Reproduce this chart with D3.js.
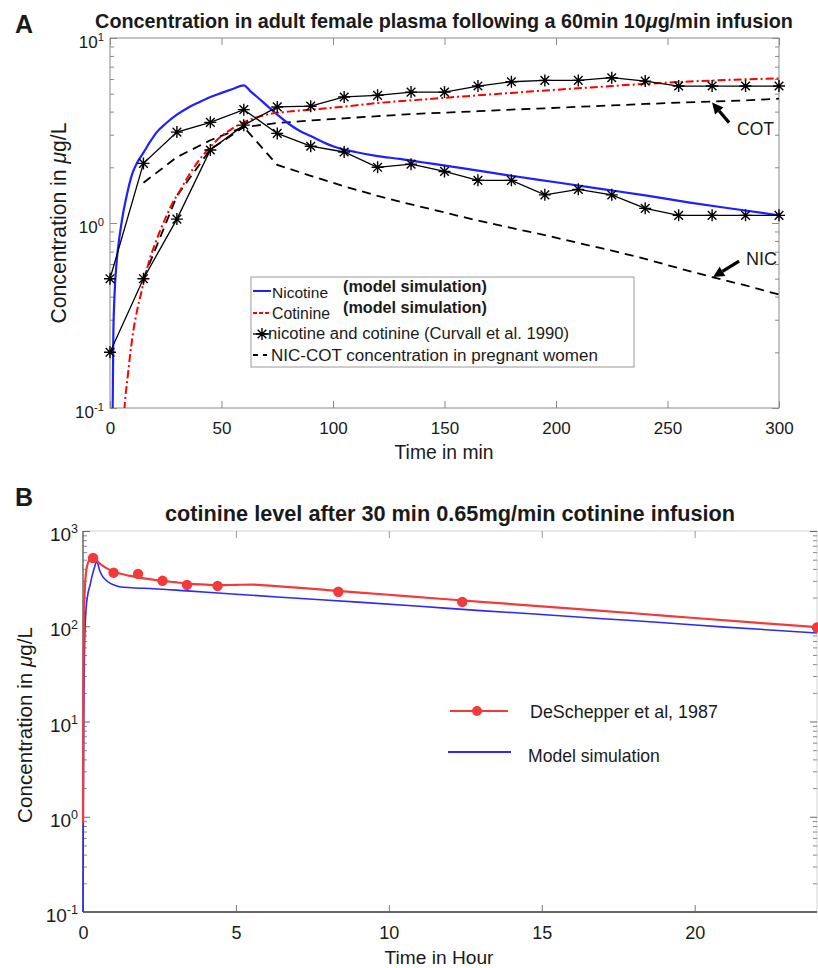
<!DOCTYPE html>
<html>
<head>
<meta charset="utf-8">
<script src="https://cdn.jsdelivr.net/npm/d3@7/dist/d3.min.js"></script>
<style>
body { margin: 0; background: #fff; }
text { font-family: "Liberation Sans", Arial, Helvetica, sans-serif; fill: #1a1a1a; }
</style>
</head>
<body>
<svg id="fig" width="818" height="968"></svg>
<script>
// ---------- panel A data (time in min, conc in ug/L) ----------
const nicModelT = [1, 1.2, 1.5, 2, 3, 4, 5, 6, 7, 8, 10, 12, 15, 18, 21, 25, 30, 35, 40, 45, 50, 55, 60,
  63, 66, 70, 75, 80, 85, 90, 100, 110, 120, 130, 140, 160, 180, 200, 220, 240, 260, 280, 300];
const nicModelC = [0.06, 0.1, 0.25, 0.4, 0.62, 0.8, 0.97, 1.15, 1.32, 1.5, 1.85, 2.1, 2.4, 2.75, 3.1, 3.45, 3.85, 4.2, 4.5, 4.8, 5.05, 5.3, 5.55,
  5.15, 4.8, 4.35, 3.85, 3.45, 3.15, 2.95, 2.6, 2.42, 2.3, 2.22, 2.13, 1.96, 1.8, 1.66, 1.53, 1.41, 1.29, 1.19, 1.1];

const cotModelT = [6, 6.5, 8, 10, 12, 14, 16, 18, 20, 22, 25, 28, 31, 35, 40, 45, 50, 55, 60, 65, 70, 80, 90, 100,
  120, 140, 160, 180, 200, 220, 240, 260, 280, 300];
const cotModelC = [0.08, 0.1, 0.15, 0.24, 0.33, 0.42, 0.53, 0.65, 0.76, 0.88, 1.07, 1.28, 1.47, 1.78, 2.19, 2.58, 2.95, 3.25, 3.5, 3.7, 3.85, 4.0, 4.1, 4.2,
  4.45, 4.65, 4.85, 5.05, 5.25, 5.45, 5.65, 5.82, 5.95, 6.05];

// Curvall et al. 1990 measurements, every 15 min
const curvallT = [0, 15, 30, 45, 60, 75, 90, 105, 120, 135, 150, 165, 180, 195, 210, 225, 240, 255, 270, 285, 300];
const curvallNic = [0.5, 2.1, 3.1, 3.5, 4.1, 3.05, 2.6, 2.42, 2.0, 2.08, 1.9, 1.7, 1.7, 1.42, 1.52, 1.42, 1.2, 1.1, 1.1, 1.1, 1.1];
const curvallCot = [0.2, 0.5, 1.05, 2.48, 3.38, 4.24, 4.28, 4.8, 4.9, 5.1, 5.1, 5.5, 5.8, 5.9, 5.9, 6.1, 5.85, 5.5, 5.5, 5.5, 5.5];

// pregnant women NIC / COT (dashed)
const pregT = [15, 30, 45, 60, 75, 90, 105, 120, 135, 150, 165, 180, 195, 210, 225, 240, 255, 270, 285, 300];
const pregNic = [1.65, 2.27, 2.8, 3.3, 2.06, 1.8, 1.58, 1.4, 1.26, 1.14, 1.03, 0.94, 0.86, 0.78, 0.71, 0.64, 0.57, 0.51, 0.46, 0.41];
const pregCot = [0.5, 1.4, 2.5, 3.3, 3.47, 3.58, 3.68, 3.78, 3.88, 3.95, 4.02, 4.1, 4.17, 4.25, 4.32, 4.4, 4.47, 4.53, 4.6, 4.7];

const xTicksA = [0, 50, 100, 150, 200, 250, 300];
const yTicksA = [0.1, 1, 10];

// ---------- panel B data (time in hour, conc in ug/L) ----------
const deschT = [0.33, 1.0, 1.8, 2.6, 3.4, 4.4, 8.35, 12.4, 24];
const deschC = [520, 365, 355, 300, 272, 265, 230, 180, 97];

const fitT = [0, 0.01, 0.03, 0.06, 0.1, 0.17, 0.25, 0.33, 0.5, 0.75, 1, 1.5, 2, 2.5, 3, 3.5, 4, 4.5, 5, 5.5, 6, 7, 8, 10, 12, 14, 16, 18, 20, 22, 24];
const fitC = [0.86, 20, 120, 250, 370, 470, 520, 540, 470, 410, 375, 340, 318, 302, 290, 279, 274, 270, 272, 274, 268, 254, 240, 214, 191, 171, 153, 137, 122, 109, 98];

const simT = [0, 0.01, 0.03, 0.06, 0.1, 0.15, 0.23, 0.3, 0.38, 0.45, 0.55, 0.65, 0.8, 1.0, 1.2, 1.6, 2.3, 3.4, 5, 7, 9, 11, 13, 15, 17, 19, 21, 24];
const simC = [0.05, 1, 15, 80, 150, 210, 270, 340, 420, 480, 380, 330, 295, 272, 260, 254, 248, 235, 217, 197, 179, 162, 146, 133, 120, 109, 98, 85];

const xTicksB = [0, 5, 10, 15, 20];
const yTicksB = [0.1, 1, 10, 100, 1000];

const svg = d3.select('#fig');

// minor ticks for a log axis
function minorTicks(lo, hi) {
  let out = [];
  for (let d = lo; d < hi; d++) {
    for (let k = 2; k <= 9; k++) out.push(k * Math.pow(10, d));
  }
  return out;
}

// MATLAB style '*' marker
function star(s) {
  let a = s * 0.72;
  return `M${-s},0H${s}M0,${-s}V${s}M${-a},${-a}L${a},${a}M${-a},${a}L${a},${-a}`;
}

// scale font so the text spans about w pixels
function fit(t, w) {
  let fs = +t.attr('font-size');
  let cur = t.node().getComputedTextLength();
  if (cur > 0) t.attr('font-size', (fs * w / cur).toFixed(2));
  return t;
}

// 10^n label with superscript
function powLabel(g, x, y, v, size) {
  let t = g.append('text').attr('x', x).attr('y', y).attr('text-anchor', 'end').attr('font-size', size);
  t.append('tspan').text('10');
  t.append('tspan').attr('dy', -size * 0.4).attr('font-size', size * 0.66).text(Math.round(Math.log10(v)));
}

function muText(g, pre, post) {
  let t = g.append('text');
  t.append('tspan').text(pre);
  t.append('tspan').attr('font-style', 'italic').text('μ');
  t.append('tspan').text(post);
  return t;
}

function arrow(g, x1, y1, x2, y2) {
  let ang = Math.atan2(y2 - y1, x2 - x1);
  let L = 11, W = 5.5;
  let bx = x2 - L * Math.cos(ang), by = y2 - L * Math.sin(ang);
  g.append('line').attr('x1', x1).attr('y1', y1).attr('x2', bx).attr('y2', by)
    .attr('stroke', '#000').attr('stroke-width', 3.2);
  g.append('path')
    .attr('d', `M${x2},${y2}L${bx + W * Math.sin(ang)},${by - W * Math.cos(ang)}L${bx - W * Math.sin(ang)},${by + W * Math.cos(ang)}Z`)
    .attr('fill', '#000');
}

function styleAxis(g, col) {
  g.select('.domain').remove();
  g.selectAll('.tick line').attr('stroke', col);
  g.selectAll('.tick text').attr('fill', '#1a1a1a');
}

// =================== PANEL A ===================
const A = { left: 110, right: 779, top: 38, bottom: 408 };
const xA = d3.scaleLinear().domain([0, 300]).range([A.left, A.right]);
const yA = d3.scaleLog().domain([0.1, 10]).range([A.bottom, A.top]);

const gA = svg.append('g');
svg.append('clipPath').attr('id', 'clipA').append('rect')
  .attr('x', A.left).attr('y', A.top).attr('width', A.right - A.left).attr('height', A.bottom - A.top);

// ticks (inward) on all four sides
const tickColA = '#8a8a8a';
gA.append('g').attr('transform', `translate(0,${A.bottom})`)
  .call(d3.axisBottom(xA).tickValues(xTicksA).tickSize(-7).tickPadding(14).tickFormat(d3.format('d')))
  .call(g => { styleAxis(g, tickColA); g.selectAll('text').attr('font-size', 17).attr('font-family', null); });
gA.append('g').attr('transform', `translate(0,${A.top})`)
  .call(d3.axisTop(xA).tickValues(xTicksA).tickSize(-7).tickFormat(''))
  .call(g => styleAxis(g, tickColA));
[[A.left, d3.axisLeft], [A.right, d3.axisRight]].forEach(([x, ax]) => {
  gA.append('g').attr('transform', `translate(${x},0)`)
    .call(ax(yA).tickValues(yTicksA).tickSize(-7).tickFormat(''))
    .call(g => styleAxis(g, tickColA));
  gA.append('g').attr('transform', `translate(${x},0)`)
    .call(ax(yA).tickValues(minorTicks(-1, 1)).tickSize(-4).tickFormat(''))
    .call(g => styleAxis(g, tickColA));
});
gA.append('rect').attr('x', A.left).attr('y', A.top).attr('width', A.right - A.left).attr('height', A.bottom - A.top)
  .attr('fill', 'none').attr('stroke', tickColA).attr('stroke-width', 1);
yTicksA.forEach(v => powLabel(gA, A.left - 6, yA(v) + 10, v, 17));

// series
const lineA = d3.line().x(d => xA(d[0])).y(d => yA(d[1]));
const plotA = gA.append('g').attr('clip-path', 'url(#clipA)');

[pregCot, pregNic].forEach(vals => {
  plotA.append('path').datum(d3.zip(pregT, vals)).attr('d', lineA)
    .attr('fill', 'none').attr('stroke', '#000').attr('stroke-width', 1.8).attr('stroke-dasharray', '9,6');
});

plotA.append('path').datum(d3.zip(nicModelT, nicModelC)).attr('d', lineA.curve(d3.curveMonotoneX))
  .attr('fill', 'none').attr('stroke', '#1f1fff').attr('stroke-width', 2.2);
plotA.append('path').datum(d3.zip(cotModelT, cotModelC)).attr('d', lineA)
  .attr('fill', 'none').attr('stroke', '#ff0000').attr('stroke-width', 2).attr('stroke-dasharray', '8,3,2,3');
lineA.curve(d3.curveLinear);

[curvallNic, curvallCot].forEach(vals => {
  let pts = d3.zip(curvallT, vals);
  plotA.append('path').datum(pts).attr('d', lineA)
    .attr('fill', 'none').attr('stroke', '#000').attr('stroke-width', 1.3);
  gA.selectAll(null).data(pts).enter().append('path')
    .attr('transform', d => `translate(${xA(d[0])},${yA(d[1])})`)
    .attr('d', star(6)).attr('stroke', '#000').attr('stroke-width', 1.4);
});

// arrows + labels
arrow(gA, xA(270) + 17, yA(4.53) + 21, xA(270), yA(4.53) + 1);
fit(gA.append('text').attr('x', xA(270) + 25).attr('y', yA(4.53) + 33).attr('font-size', 16).text('COT'), 37);
arrow(gA, xA(270) + 27, yA(0.51) - 16, xA(270) + 1, yA(0.51));
fit(gA.append('text').attr('x', xA(270) + 34).attr('y', yA(0.51) - 12).attr('font-size', 16).text('NIC'), 31);

// legend A
const lgA = gA.append('g');
lgA.append('rect').attr('x', 251).attr('y', 277).attr('width', 383).attr('height', 90)
  .attr('fill', '#fff').attr('stroke', '#9a9a9a');
lgA.append('line').attr('x1', 253).attr('x2', 271).attr('y1', 291).attr('y2', 291).attr('stroke', '#1f1fff').attr('stroke-width', 2);
fit(lgA.append('text').attr('x', 272).attr('y', 298).attr('font-size', 15).text('Nicotine'), 56);
fit(lgA.append('text').attr('x', 343).attr('y', 292).attr('font-size', 15).attr('font-weight', 'bold').text('(model simulation)'), 144);
lgA.append('line').attr('x1', 253).attr('x2', 271).attr('y1', 313).attr('y2', 313).attr('stroke', '#ff0000').attr('stroke-width', 2).attr('stroke-dasharray', '4,2');
fit(lgA.append('text').attr('x', 272).attr('y', 319).attr('font-size', 15).text('Cotinine'), 58);
fit(lgA.append('text').attr('x', 343).attr('y', 313).attr('font-size', 15).attr('font-weight', 'bold').text('(model simulation)'), 144);
lgA.append('line').attr('x1', 253).attr('x2', 271).attr('y1', 334).attr('y2', 334).attr('stroke', '#000').attr('stroke-width', 1.3);
lgA.append('path').attr('transform', 'translate(262,334)').attr('d', star(6)).attr('stroke', '#000').attr('stroke-width', 1.4);
fit(lgA.append('text').attr('x', 268).attr('y', 339).attr('font-size', 15).text('nicotine and cotinine (Curvall et al. 1990)'), 301);
lgA.append('line').attr('x1', 253).attr('x2', 267).attr('y1', 355).attr('y2', 355).attr('stroke', '#000').attr('stroke-width', 1.8).attr('stroke-dasharray', '5,5');
fit(lgA.append('text').attr('x', 271).attr('y', 361).attr('font-size', 15).text('NIC-COT concentration in pregnant women'), 327);

// titles and labels A
gA.append('text').attr('x', 15).attr('y', 33).attr('font-size', 25).attr('font-weight', 'bold').text('A');
let tA = muText(gA, 'Concentration in adult female plasma following a 60min 10', 'g/min infusion')
  .attr('x', 444).attr('y', 28).attr('text-anchor', 'middle').attr('font-size', 17).attr('font-weight', 'bold');
fit(tA, 698);
fit(gA.append('text').attr('x', 444).attr('y', 459).attr('text-anchor', 'middle').attr('font-size', 19).text('Time in min'), 99);
let ylA = muText(gA, 'Concentration in ', 'g/L')
  .attr('transform', `translate(66,${(A.top + A.bottom) / 2}) rotate(-90)`)
  .attr('text-anchor', 'middle').attr('font-size', 19);
fit(ylA, 201);

// =================== PANEL B ===================
const B = { left: 83, right: 817, top: 531, bottom: 912 };
const xB = d3.scaleLinear().domain([0, 24]).range([B.left, B.right]);
const yB = d3.scaleLog().domain([0.1, 1000]).range([B.bottom, B.top]);
const gB = svg.append('g');
svg.append('clipPath').attr('id', 'clipB').append('rect')
  .attr('x', B.left - 3).attr('y', B.top).attr('width', B.right - B.left + 6).attr('height', B.bottom - B.top);

// light frame top/right
gB.append('line').attr('x1', B.left).attr('x2', B.right).attr('y1', B.top).attr('y2', B.top).attr('stroke', '#d4d4d4');
gB.append('line').attr('x1', B.right).attr('x2', B.right).attr('y1', B.top).attr('y2', B.bottom).attr('stroke', '#d4d4d4');

gB.append('g').attr('transform', `translate(0,${B.bottom})`)
  .call(d3.axisBottom(xB).tickValues(xTicksB).tickSize(-7).tickPadding(14).tickFormat(d3.format('d')))
  .call(g => { styleAxis(g, '#777'); g.selectAll('text').attr('font-size', 18).attr('font-family', null); });
gB.append('g').attr('transform', `translate(0,${B.top})`)
  .call(d3.axisTop(xB).tickValues(xTicksB.slice(1)).tickSize(-7).tickFormat(''))
  .call(g => styleAxis(g, '#999'));
[[B.left, d3.axisLeft], [B.right, d3.axisRight]].forEach(([x, ax]) => {
  gB.append('g').attr('transform', `translate(${x},0)`)
    .call(ax(yB).tickValues(yTicksB).tickSize(-7).tickFormat(''))
    .call(g => styleAxis(g, '#666'));
  gB.append('g').attr('transform', `translate(${x},0)`)
    .call(ax(yB).tickValues(minorTicks(-1, 3)).tickSize(-4).tickFormat(''))
    .call(g => styleAxis(g, '#888'));
});
gB.append('line').attr('x1', B.left).attr('x2', B.left).attr('y1', B.top).attr('y2', B.bottom).attr('stroke', '#666').attr('stroke-width', 1.5);
gB.append('line').attr('x1', B.left).attr('x2', B.right).attr('y1', B.bottom).attr('y2', B.bottom).attr('stroke', '#666').attr('stroke-width', 2);
yTicksB.forEach(v => powLabel(gB, B.left - 5, yB(v) + 10, v, 19));

const lineB = d3.line().x(d => xB(d[0])).y(d => yB(d[1])).curve(d3.curveMonotoneX);
const plotB = gB.append('g').attr('clip-path', 'url(#clipB)');
plotB.append('path').datum(d3.zip(simT, simC)).attr('d', lineB)
  .attr('fill', 'none').attr('stroke', '#2a2aff').attr('stroke-width', 1.6);
plotB.append('path').datum(d3.zip(fitT, fitC)).attr('d', lineB)
  .attr('fill', 'none').attr('stroke', '#f23a3a').attr('stroke-width', 2.2);
plotB.selectAll('circle').data(d3.zip(deschT, deschC)).enter().append('circle')
  .attr('cx', d => xB(d[0])).attr('cy', d => yB(d[1])).attr('r', 5.2).attr('fill', '#f23a3a');

// legend B
gB.append('line').attr('x1', 450).attr('x2', 508).attr('y1', 711).attr('y2', 711).attr('stroke', '#f23a3a').attr('stroke-width', 2.2);
gB.append('circle').attr('cx', 477).attr('cy', 711).attr('r', 5).attr('fill', '#f23a3a');
fit(gB.append('text').attr('x', 530).attr('y', 718).attr('font-size', 17).text('DeSchepper et al, 1987'), 188);
gB.append('line').attr('x1', 448).attr('x2', 511).attr('y1', 752).attr('y2', 752).attr('stroke', '#2a2aff').attr('stroke-width', 1.8);
fit(gB.append('text').attr('x', 528).attr('y', 762).attr('font-size', 17).text('Model simulation'), 132);

gB.append('text').attr('x', 15).attr('y', 506).attr('font-size', 25).attr('font-weight', 'bold').text('B');
fit(gB.append('text').attr('x', 450).attr('y', 521).attr('text-anchor', 'middle').attr('font-size', 17).attr('font-weight', 'bold')
  .text('cotinine level after 30 min 0.65mg/min cotinine infusion'), 570);
fit(gB.append('text').attr('x', 439).attr('y', 964).attr('text-anchor', 'middle').attr('font-size', 19).text('Time in Hour'), 109);
let ylB = muText(gB, 'Concentration in ', 'g/L')
  .attr('transform', `translate(32,725) rotate(-90)`)
  .attr('text-anchor', 'middle').attr('font-size', 19);
fit(ylB, 196);
</script>
</body>
</html>
